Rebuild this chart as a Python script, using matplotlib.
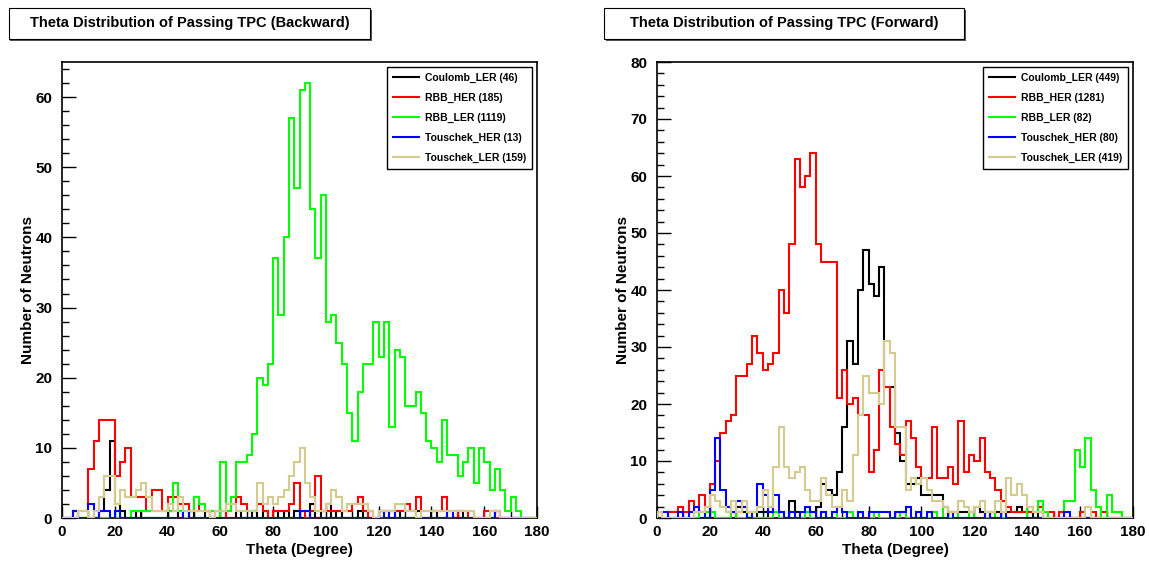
import numpy as np
import matplotlib
matplotlib.use("Agg")
import matplotlib.pyplot as plt
from matplotlib.lines import Line2D
from matplotlib.patches import Rectangle
from matplotlib.ticker import MultipleLocator

plt.rcParams['font.family'] = ['Liberation Sans', 'DejaVu Sans']
plt.rcParams['font.weight'] = 'bold'

# 90 bins of 2 degrees, 0..180
edges = np.arange(0, 181, 2)

names = ["Coulomb_LER", "RBB_HER", "RBB_LER", "Touschek_HER", "Touschek_LER"]
colors = ["#000000", "#ff0000", "#00ff00", "#0000ff", "#d6cb8e"]

# --- backward TPC ---
bwd_coulomb_ler = [0, 0, 1, 0, 0, 0, 0, 1, 4, 11,
                   2, 1, 0, 0, 1, 0, 0, 0, 0, 0,
                   1, 1, 0, 0, 1, 0, 0, 1, 0, 0,
                   1, 0, 0, 1, 0, 0, 1, 0, 1, 0,
                   1, 0, 1, 0, 1, 0, 0, 2, 0, 1,
                   2, 0, 1, 0, 0, 0, 1, 0, 1, 0,
                   1, 0, 0, 1, 0, 0, 0, 1, 0, 0,
                   1, 0, 0, 0, 0, 1, 0, 0, 0, 0,
                   0, 0, 1, 0, 0, 0, 0, 0, 0, 0]
bwd_rbb_her = [0, 0, 0, 1, 1, 7, 11, 14, 14, 14,
               6, 8, 10, 3, 3, 3, 1, 4, 4, 1,
               3, 3, 2, 2, 1, 3, 1, 1, 0, 1,
               0, 1, 2, 3, 2, 1, 1, 2, 1, 0,
               1, 1, 1, 2, 5, 1, 0, 1, 6, 1,
               1, 1, 1, 1, 1, 2, 3, 1, 0, 0,
               0, 0, 1, 1, 1, 2, 1, 3, 1, 1,
               1, 1, 3, 0, 0, 1, 1, 0, 0, 0,
               1, 1, 0, 0, 0, 0, 0, 0, 0, 0]
bwd_rbb_ler = [0, 0, 0, 0, 0, 0, 0, 0, 0, 0,
               0, 0, 0, 1, 1, 1, 1, 1, 1, 1,
               1, 5, 1, 0, 1, 3, 2, 1, 1, 0,
               8, 1, 3, 8, 8, 9, 12, 20, 19, 22,
               37, 29, 40, 57, 47, 61, 62, 44, 37, 46,
               28, 29, 25, 22, 15, 11, 18, 22, 22, 28,
               23, 28, 13, 24, 23, 16, 16, 18, 15, 11,
               10, 8, 14, 9, 9, 6, 8, 10, 5, 10,
               8, 4, 7, 4, 1, 3, 1, 0, 0, 0]
bwd_touschek_her = [0, 0, 1, 0, 0, 2, 0, 1, 1, 0,
                    1, 0, 0, 0, 0, 0, 0, 0, 0, 0,
                    0, 0, 0, 1, 0, 0, 0, 0, 0, 0,
                    0, 0, 0, 0, 0, 0, 0, 0, 0, 0,
                    0, 0, 0, 0, 0, 1, 1, 0, 0, 0,
                    0, 0, 0, 0, 0, 0, 0, 0, 0, 0,
                    1, 0, 1, 0, 0, 0, 0, 0, 0, 0,
                    0, 0, 0, 1, 0, 0, 0, 0, 0, 0,
                    0, 0, 1, 0, 0, 0, 0, 0, 0, 0]
bwd_touschek_ler = [0, 0, 0, 1, 1, 0, 1, 3, 6, 6,
                    2, 4, 3, 3, 4, 5, 3, 1, 1, 1,
                    2, 1, 3, 1, 1, 1, 1, 1, 0, 1,
                    1, 2, 2, 1, 1, 1, 1, 5, 2, 3,
                    2, 3, 4, 6, 8, 10, 5, 3, 1, 1,
                    2, 4, 3, 1, 2, 2, 2, 2, 1, 0,
                    1, 1, 1, 2, 2, 1, 1, 0, 1, 1,
                    1, 1, 1, 1, 1, 1, 1, 1, 0, 0,
                    0, 1, 1, 0, 0, 0, 0, 0, 0, 0]
bwd_counts = [46, 185, 1119, 13, 159]

# --- forward TPC ---
fwd_coulomb_ler = [0, 0, 0, 0, 0, 0, 0, 0, 0, 0,
                   0, 0, 0, 0, 0, 2, 1, 0, 0, 1,
                   1, 0, 1, 1, 0, 3, 1, 0, 1, 1,
                   2, 6, 5, 4, 8, 16, 31, 27, 40, 47,
                   41, 39, 44, 23, 23, 15, 10, 6, 6, 7,
                   4, 4, 4, 4, 2, 1, 1, 1, 1, 1,
                   2, 1, 0, 1, 1, 0, 1, 1, 2, 1,
                   1, 0, 1, 0, 0, 0, 0, 0, 0, 0,
                   0, 0, 0, 0, 0, 0, 0, 0, 0, 0]
fwd_rbb_her = [0, 0, 1, 1, 2, 1, 3, 1, 4, 1,
               6, 10, 15, 17, 18, 25, 25, 27, 32, 29,
               26, 27, 29, 40, 36, 48, 63, 58, 60, 64,
               48, 45, 45, 45, 21, 26, 20, 21, 18, 18,
               8, 12, 26, 23, 16, 13, 11, 17, 14, 9,
               7, 7, 16, 7, 7, 9, 6, 17, 8, 11,
               10, 14, 8, 7, 5, 3, 2, 1, 1, 1,
               1, 1, 2, 0, 1, 0, 1, 0, 0, 0,
               1, 0, 1, 0, 1, 0, 0, 0, 0, 0]
fwd_rbb_ler = [0, 0, 0, 0, 0, 0, 0, 0, 1, 1,
               1, 0, 0, 0, 1, 0, 0, 0, 0, 0,
               0, 0, 1, 0, 0, 1, 0, 0, 1, 0,
               0, 1, 0, 1, 0, 0, 1, 0, 1, 0,
               0, 1, 0, 0, 0, 0, 1, 0, 0, 1,
               0, 0, 1, 0, 2, 0, 1, 0, 0, 1,
               0, 0, 0, 1, 0, 0, 0, 0, 0, 0,
               2, 1, 3, 1, 0, 0, 0, 3, 3, 12,
               9, 14, 5, 2, 0, 4, 1, 1, 0, 0]
fwd_touschek_her = [0, 1, 0, 0, 1, 0, 1, 2, 1, 0,
                    5, 14, 5, 2, 1, 3, 2, 0, 1, 6,
                    4, 1, 4, 1, 0, 1, 0, 1, 2, 1,
                    0, 1, 0, 1, 2, 1, 0, 0, 1, 0,
                    1, 1, 1, 1, 0, 1, 1, 2, 0, 1,
                    0, 1, 0, 0, 0, 1, 0, 0, 0, 0,
                    0, 0, 1, 0, 0, 1, 0, 0, 0, 0,
                    0, 0, 0, 0, 0, 0, 0, 1, 0, 0,
                    0, 0, 0, 0, 0, 0, 0, 0, 0, 0]
fwd_touschek_ler = [1, 0, 0, 0, 0, 0, 0, 1, 1, 2,
                    4, 3, 2, 1, 3, 1, 3, 1, 1, 2,
                    5, 2, 9, 16, 9, 7, 8, 9, 5, 3,
                    3, 7, 4, 2, 2, 5, 3, 11, 18, 25,
                    22, 22, 20, 31, 29, 16, 16, 5, 7, 6,
                    7, 5, 3, 3, 2, 1, 1, 3, 2, 1,
                    2, 3, 1, 1, 3, 1, 7, 4, 6, 4,
                    2, 1, 1, 0, 0, 0, 0, 0, 0, 0,
                    0, 2, 0, 0, 0, 0, 0, 0, 0, 0]
fwd_counts = [449, 1281, 82, 80, 419]

W, H = 1149, 567
fig = plt.figure(figsize=(W / 100, H / 100), dpi=100)


def px_box(x0, y0, x1, y1):
    # pixel box (top-left origin) -> figure fraction [left, bottom, width, height]
    return [x0 / W, 1 - y1 / H, (x1 - x0) / W, (y1 - y0) / H]


def title_box(x0, y0, x1, y1, text):
    l, b, w, h = px_box(x0, y0, x1, y1)
    fig.add_artist(Rectangle((l + 1.5 / W, b - 1.5 / H), w, h, transform=fig.transFigure,
                             fc="#555555", ec="none", zorder=1))
    fig.add_artist(Rectangle((l, b), w, h, transform=fig.transFigure,
                             fc="white", ec="black", lw=0.8, zorder=2))
    fig.text(l + w / 2, b + h / 2, text, ha="center", va="center",
             fontsize=10.5, fontweight="bold", zorder=3)


def panel(rect, series, counts, ymax):
    ax = fig.add_axes(rect)
    for vals, c in zip(series, colors):
        ax.stairs(vals, edges, baseline=0, color=c, lw=1.5, zorder=3)
    ax.set_xlim(0, 180)
    ax.set_ylim(0, ymax)
    ax.xaxis.set_major_locator(MultipleLocator(20))
    ax.xaxis.set_minor_locator(MultipleLocator(10))
    ax.yaxis.set_major_locator(MultipleLocator(10))
    ax.yaxis.set_minor_locator(MultipleLocator(2))
    ax.tick_params(which="both", direction="in", top=False, right=False, width=1,
                   labelsize=11)
    ax.tick_params(axis="y", which="major", length=10, pad=7)
    ax.tick_params(axis="y", which="minor", length=5)
    ax.tick_params(axis="x", which="major", length=9, pad=5)
    ax.tick_params(axis="x", which="minor", length=5)
    for lab in ax.get_xticklabels() + ax.get_yticklabels():
        lab.set_fontweight("bold")
    for s in ax.spines.values():
        s.set_linewidth(1.2)
    ax.set_xlabel("Theta (Degree)", fontsize=11, fontweight="bold", labelpad=3)
    ax.set_ylabel("Number of Neutrons", fontsize=11, fontweight="bold", labelpad=0)

    handles = [Line2D([], [], color=c, lw=1.5) for c in colors]
    labels = ["%s (%d)" % (n, k) for n, k in zip(names, counts)]
    leg = ax.legend(handles, labels, loc="upper right", bbox_to_anchor=(0.99, 0.989),
                    borderaxespad=0, fancybox=False, framealpha=1, edgecolor="black",
                    labelspacing=0.95, handlelength=2.5, handletextpad=0.6,
                    borderpad=0.55, prop={"weight": "bold", "size": 7.5})
    leg.get_frame().set_linewidth(1.0)
    leg.set_zorder(5)
    return ax


panel(px_box(62, 62, 537, 518),
      [bwd_coulomb_ler, bwd_rbb_her, bwd_rbb_ler, bwd_touschek_her, bwd_touschek_ler],
      bwd_counts, 65)
panel(px_box(657, 62, 1133, 518),
      [fwd_coulomb_ler, fwd_rbb_her, fwd_rbb_ler, fwd_touschek_her, fwd_touschek_ler],
      fwd_counts, 80)

title_box(9, 8, 370, 39, "Theta Distribution of Passing TPC (Backward)")
title_box(604, 8, 964, 39, "Theta Distribution of Passing TPC (Forward)")

fig.savefig("out.png", dpi=100)
